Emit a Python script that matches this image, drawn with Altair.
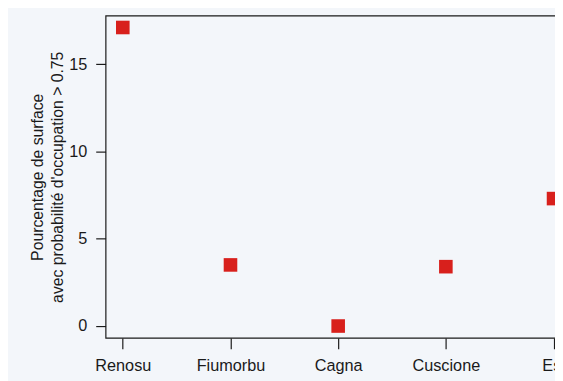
import altair as alt
import pandas as pd

regions = ["Renosu", "Fiumorbu", "Cagna", "Cuscione", "Est"]
positions = [1, 2, 3, 4, 5]
values = [17.1, 3.5, 0.0, 3.4, 7.3]

df = pd.DataFrame({"pos": positions, "region": regions, "value": values})

label_expr = "[" + ",".join(f"'{r}'" for r in regions) + "][datum.value - 1]"

font = "Liberation Sans"
ink = "#1a1a1a"

points = alt.Chart(df).mark_square(size=190, color="#d8201c", opacity=1).encode(
    x=alt.X("pos:Q",
            scale=alt.Scale(domain=[0.84, 5.16], nice=False, zero=False),
            axis=alt.Axis(values=positions, labelExpr=label_expr, title=None,
                          grid=False, tickSize=11, labelPadding=9,
                          labelFontSize=16.5, labelFont=font, labelColor=ink,
                          domain=False, tickColor=ink, tickWidth=1.2)),
    y=alt.Y("value:Q",
            scale=alt.Scale(domain=[-0.68, 17.78], nice=False, zero=False),
            axis=alt.Axis(values=[0, 5, 10, 15], title=["Pourcentage de surface",
                                                        "avec probabilité d'occupation > 0.75"],
                          grid=False, tickSize=10, labelPadding=9,
                          labelFontSize=16.5, labelFont=font, labelColor=ink,
                          titleFontSize=16, titleFont=font, titleColor=ink,
                          titleFontWeight="normal", titlePadding=3, titleLineHeight=21,
                          domain=False, tickColor=ink, tickWidth=1.2)),
)

chart = points.properties(
    width=472, height=327,
    autosize=alt.AutoSizeParams(type="none"),
    padding={"left": 99, "top": 5, "right": -16, "bottom": 41},
    background="#f3f6fa",
).configure_view(stroke=ink, strokeWidth=1.2)

chart.save("out.html", embed_options={"renderer": "svg", "actions": False})
